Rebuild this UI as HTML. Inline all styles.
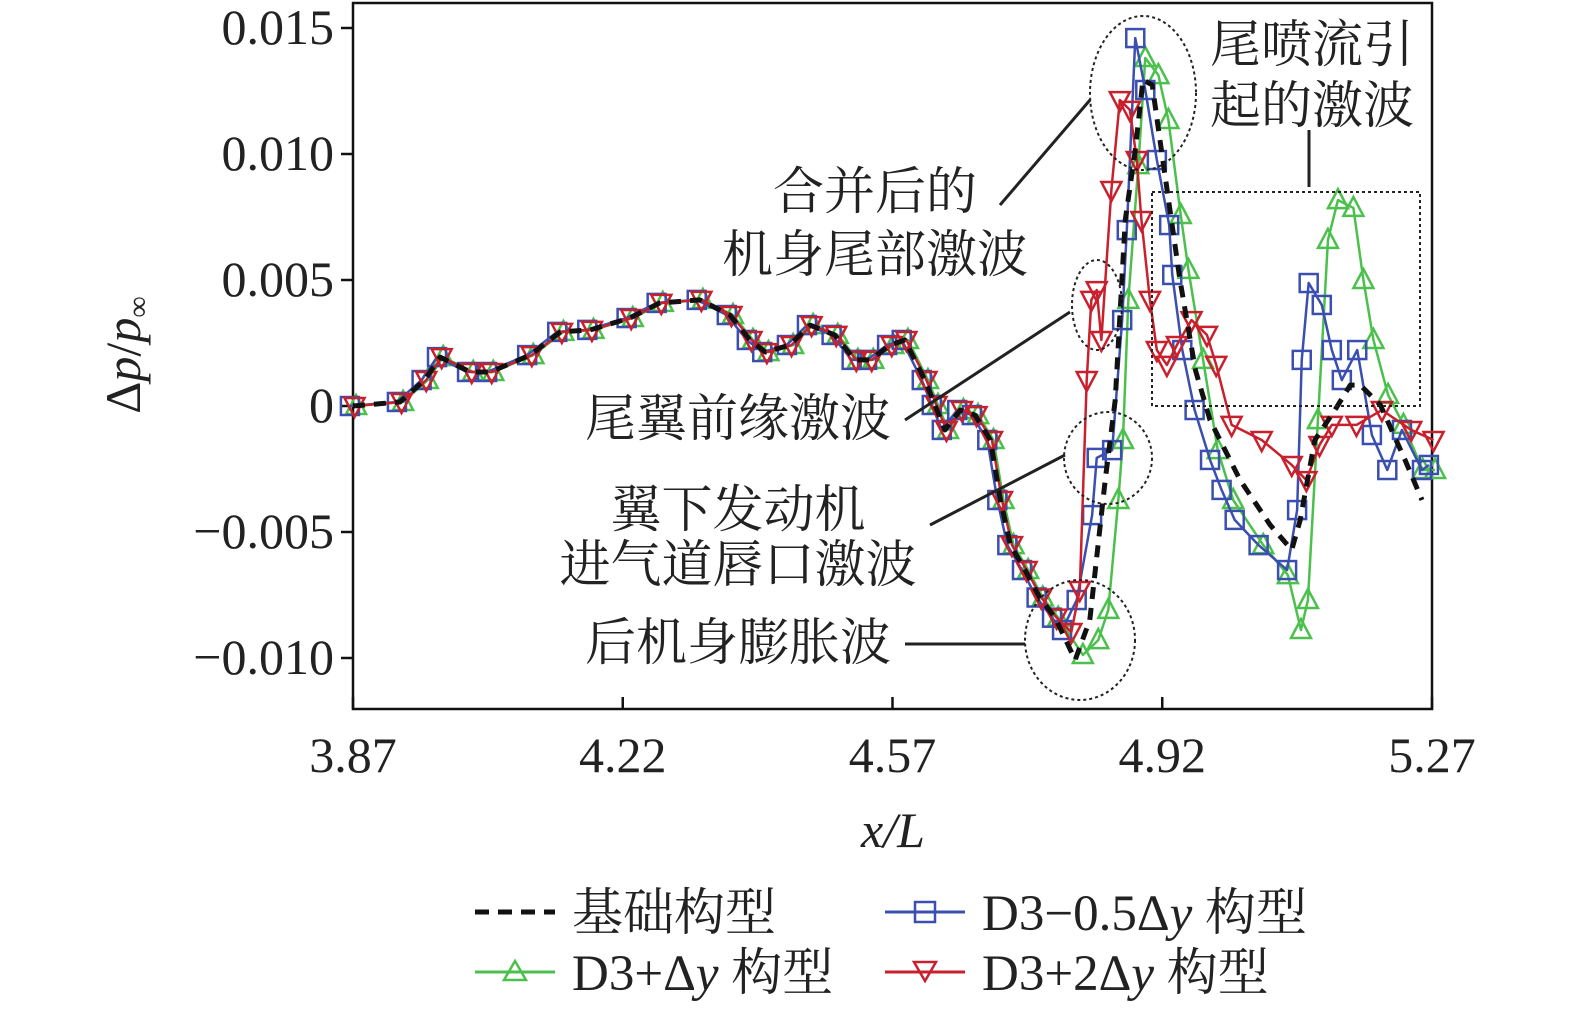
<!DOCTYPE html>
<html><head><meta charset="utf-8"><style>
body{margin:0;background:#fff}
svg{display:block;font-family:"Liberation Serif","Noto Serif CJK SC",serif}
.cj{font-family:"Liberation Serif","Noto Serif CJK SC",serif;font-size:51px;fill:#222}
</style></head><body>
<svg id="chart" width="1575" height="1010" viewBox="0 0 1575 1010">
<g id="axes"></g>
<g id="series"></g>
<g id="annot" fill="none" stroke="#222">
 <ellipse cx="1143" cy="93" rx="53" ry="77" stroke-dasharray="3,3" stroke-width="2"/>
 <ellipse cx="1097" cy="305" rx="25" ry="45" stroke-dasharray="3,3" stroke-width="2"/>
 <ellipse cx="1108" cy="458" rx="44" ry="46" stroke-dasharray="3,3" stroke-width="2"/>
 <ellipse cx="1080" cy="640" rx="55" ry="60" stroke-dasharray="3,3" stroke-width="2"/>
 <rect x="1152" y="192" width="268" height="214" stroke-dasharray="3,3" stroke-width="2"/>
 <line x1="1000" y1="205" x2="1090" y2="100" stroke-width="3"/>
 <line x1="1309" y1="130" x2="1309" y2="187" stroke-width="3"/>
 <line x1="905" y1="420" x2="1070" y2="312" stroke-width="3"/>
 <line x1="930" y1="525" x2="1065" y2="455" stroke-width="3"/>
 <line x1="905" y1="644" x2="1025" y2="644" stroke-width="3"/>
</g>
<g>
 <text class="cj" x="875" y="209" text-anchor="middle">合并后的</text>
 <text class="cj" x="875" y="272" text-anchor="middle">机身尾部激波</text>
 <text class="cj" x="1312" y="62" text-anchor="middle">尾喷流引</text>
 <text class="cj" x="1312" y="123" text-anchor="middle">起的激波</text>
 <text class="cj" x="738" y="436" text-anchor="middle">尾翼前缘激波</text>
 <text class="cj" x="738" y="527" text-anchor="middle">翼下发动机</text>
 <text class="cj" x="738" y="582" text-anchor="middle">进气道唇口激波</text>
 <text class="cj" x="738" y="660" text-anchor="middle">后机身膨胀波</text>
</g>
<g id="legend">
 <g>
  <line x1="475" y1="912" x2="555" y2="912" stroke="#111" stroke-width="5" stroke-dasharray="14,9"/>
  <text class="cj" x="572" y="930">基础构型</text></g>
 <g>
  <line x1="885" y1="912" x2="965" y2="912" stroke="#3b4fb0" stroke-width="3"/>
  <rect x="915" y="902" width="20" height="20" fill="none" stroke="#3b4fb0" stroke-width="2.5"/>
  <text class="cj" x="982" y="930">D3−0.5Δ<tspan font-style="italic">y</tspan> 构型</text></g>
 <g>
  <line x1="475" y1="972" x2="555" y2="972" stroke="#4cc04c" stroke-width="3"/>
  <path d="M515 961 L526 980 L504 980 Z" fill="none" stroke="#4cc04c" stroke-width="2.5"/>
  <text class="cj" x="572" y="990">D3+Δ<tspan font-style="italic">y</tspan> 构型</text></g>
 <g>
  <line x1="885" y1="972" x2="965" y2="972" stroke="#c8202c" stroke-width="3"/>
  <path d="M914 962 L936 962 L925 981 Z" fill="none" stroke="#c8202c" stroke-width="2.5"/>
  <text class="cj" x="982" y="990">D3+2Δ<tspan font-style="italic">y</tspan> 构型</text></g>
</g>
</svg>
<script>
const xTicks=[3.87,4.22,4.57,4.92,5.27];
const xTickLabels=["3.87","4.22","4.57","4.92","5.27"];
const yTicks=[15,10,5,0,-5,-10];
const yTickLabels=["0.015","0.010","0.005","0","−0.005","−0.010"];
// shared upstream portion (x/L, Δp/p∞ ×1e-3)
const commonX=[3.870,3.931,3.963,3.983,4.022,4.048,4.100,4.139,4.178,4.229,4.268,4.320,4.359,4.385,4.405,4.437,4.463,4.495,4.521,4.541,4.567,4.586,4.612,4.625,4.638,4.658,4.677,4.697,4.710,4.723,4.742,4.761,4.781];
const commonY=[0,0.16,1.03,1.94,1.35,1.35,2.02,2.94,3.02,3.49,4.09,4.21,3.61,2.62,2.14,2.42,3.21,2.82,1.83,1.83,2.42,2.62,1.03,0.04,-0.95,-0.16,-0.36,-1.35,-3.73,-5.52,-6.51,-7.6,-8.4];
const baseX=[4.807,4.826,4.846,4.859,4.872,4.885,4.895,4.907,4.917,4.930,4.943,4.963,4.982,5.021,5.060,5.088,5.099,5.118,5.144,5.164,5.177,5.203,5.235,5.257];
const baseY=[-10.08,-8.49,-2.94,0.24,7.38,10.16,12.94,12.74,10.56,7.78,5.00,1.43,-0.56,-2.94,-4.72,-5.71,-4.52,-1.35,-0.16,0.83,0.83,0.04,-2.14,-3.73];
const minusX=[4.794,4.813,4.833,4.839,4.859,4.872,4.878,4.889,4.902,4.917,4.933,4.937,4.950,4.966,4.986,5.001,5.018,5.049,5.086,5.099,5.105,5.114,5.131,5.144,5.157,5.177,5.196,5.216,5.235,5.261,5.270];
const minusY=[-8.89,-7.70,-4.33,-2.06,-1.75,3.41,6.98,14.60,12.54,9.76,7.18,5.20,2.22,-0.16,-2.14,-3.33,-4.52,-5.52,-6.51,-4.13,1.83,4.88,4.01,2.22,1.03,2.22,-1.15,-2.54,-0.95,-2.54,-2.34];
const plusX=[4.813,4.833,4.846,4.859,4.865,4.872,4.885,4.894,4.911,4.924,4.940,4.950,4.969,4.988,5.008,5.047,5.079,5.096,5.105,5.118,5.131,5.144,5.164,5.177,5.190,5.209,5.229,5.254,5.270];
const plusY=[-9.88,-9.29,-8.09,-3.73,-1.35,4.21,9.56,13.81,13.13,11.35,7.58,5.40,1.83,-1.75,-3.73,-5.52,-6.71,-8.89,-7.70,-0.56,6.59,8.17,7.86,5.00,2.62,0.44,-0.75,-2.54,-2.54];
const plus2X=[4.800,4.811,4.820,4.826,4.833,4.839,4.852,4.863,4.876,4.885,4.891,4.902,4.911,4.924,4.937,4.956,4.976,4.988,5.008,5.047,5.086,5.105,5.122,5.138,5.170,5.203,5.241,5.270];
const plus2Y=[-8.97,-7.30,1.03,4.21,4.60,2.62,8.57,12.14,11.75,9.76,7.38,4.21,2.22,1.63,2.42,3.41,2.82,1.63,-0.75,-1.35,-2.34,-2.94,-1.55,-0.75,-0.75,-0.16,-0.95,-1.35];

const X0=353,X1=1432,Y0=406,PY=126/5;
const sx=v=>X0+(v-3.87)/(5.27-3.87)*(X1-X0);
const sy=v=>Y0-v*PY;
const NS="http://www.w3.org/2000/svg";
function mk(t,a,p){const e=document.createElementNS(NS,t);for(const k in a)e.setAttribute(k,a[k]);p.appendChild(e);return e;}
const ax=document.getElementById('axes');
const frame=mk('rect',{x:X0,y:3,width:X1-X0,height:706,fill:'none',stroke:'#111','stroke-width':2.5},ax);


yTicks.forEach((v,i)=>{
 const t=mk('line',{x1:X0-12,x2:X0,y1:sy(v),y2:sy(v),stroke:'#111','stroke-width':2.5},ax);
 
 
 const l=mk('text',{x:334,y:sy(v)+16,'text-anchor':'end','font-size':50,fill:'#222'},ax);
 
 
 l.textContent=yTickLabels[i];
});
xTicks.forEach((v,i)=>{
 const t=mk('line',{x1:sx(v),x2:sx(v),y1:709,y2:697,stroke:'#111','stroke-width':2.5},ax);
 
 
 const l=mk('text',{x:sx(v),y:772,'text-anchor':'middle','font-size':50,fill:'#222'},ax);
 
 
 l.textContent=xTickLabels[i];
});
const xt=mk('text',{x:893,y:847,'text-anchor':'middle','font-size':50,'font-style':'italic',fill:'#222'},ax);


xt.textContent='x/L';
const yt=mk('text',{x:0,y:0,'text-anchor':'middle','font-size':50,fill:'#222',transform:'translate(140,355) rotate(-90)'},ax);


yt.innerHTML='Δ<tspan font-style="italic">p</tspan>/<tspan font-style="italic">p</tspan><tspan font-size="30" dy="8">∞</tspan>';

const sg=document.getElementById('series');
function marker(type,x,y,c,g){
 let e;
 if(type==='sq')e=mk('rect',{x:x-9,y:y-9,width:18,height:18,fill:'none',stroke:c,'stroke-width':2.5},g);
 else if(type==='up')e=mk('path',{d:`M${x} ${y-11}L${x+10} ${y+8}L${x-10} ${y+8}Z`,fill:'none',stroke:c,'stroke-width':2.5},g);
 else e=mk('path',{d:`M${x-10} ${y-8}L${x+10} ${y-8}L${x} ${y+11}Z`,fill:'none',stroke:c,'stroke-width':2.5},g);
 
 
}
function series(name,xs,ys,c,m,dash,w,off){
 const g=mk('g',{},sg);
 
 
 const X=commonX.concat(xs),Y=commonY.concat(ys);
 const pts=X.map((v,i)=>sx(v+off)+','+sy(Y[i])).join(' ');
 const pl=mk('polyline',{points:pts,fill:'none',stroke:c,'stroke-width':w,'stroke-linejoin':'round'},g);
 if(dash)pl.setAttribute('stroke-dasharray',dash);
 
 
 if(m)X.forEach((v,i)=>marker(m,sx(v+off),sy(Y[i]),c,g));
}
series('series-d3-plus',plusX,plusY,'#4cc04c','up',null,2.5,0.004);
series('series-d3-minus',minusX,minusY,'#3b4fb0','sq',null,2.5,-0.004);
series('series-d3-plus2',plus2X,plus2Y,'#c8202c','dn',null,2.5,0.002);
series('series-base',baseX,baseY,'#111',null,'12,9',5,0);
</script>
</body></html>
